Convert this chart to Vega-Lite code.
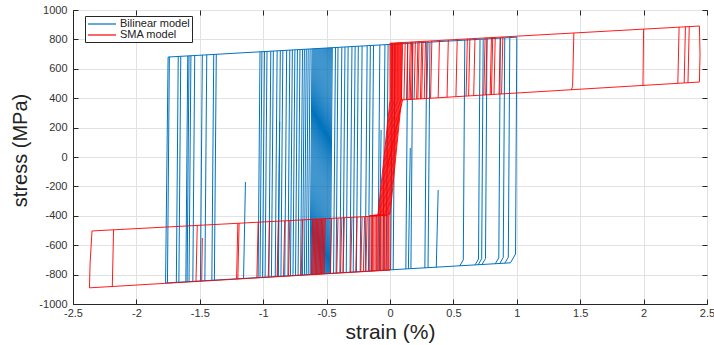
{
  "$schema": "https://vega.github.io/schema/vega-lite/v6.json",
  "width": 634,
  "height": 294,
  "autosize": "none",
  "padding": {"left": 73, "top": 10, "right": 7, "bottom": 41},
  "background": "white",
  "config": {
    "view": {"stroke": "#262626", "strokeWidth": 1},
    "font": "Liberation Sans"
  },
  "datasets": {
    "bilinear": [
      {"g":0,"o":0,"x":-1.75,"y":680},{"g":0,"o":1,"x":1.0,"y":815},{"g":0,"o":2,"x":0.99,"y":-660},{"g":0,"o":3,"x":0.95,"y":-720},{"g":0,"o":4,"x":-1.77,"y":-857},{"g":0,"o":5,"x":-1.75,"y":680},
      {"g":1,"o":0,"x":-1.755,"y":-856},{"g":1,"o":1,"x":-1.74,"y":681},
      {"g":2,"o":0,"x":-1.685,"y":-853},{"g":2,"o":1,"x":-1.67,"y":684},
      {"g":3,"o":0,"x":-1.665,"y":-852},{"g":3,"o":1,"x":-1.65,"y":685},
      {"g":4,"o":0,"x":-1.61,"y":-849},{"g":4,"o":1,"x":-1.595,"y":688},
      {"g":5,"o":0,"x":-1.6,"y":-848},{"g":5,"o":1,"x":-1.585,"y":688},
      {"g":6,"o":0,"x":-1.585,"y":-848},{"g":6,"o":1,"x":-1.57,"y":689},
      {"g":7,"o":0,"x":-1.555,"y":-846},{"g":7,"o":1,"x":-1.54,"y":691},
      {"g":8,"o":0,"x":-1.495,"y":-843},{"g":8,"o":1,"x":-1.48,"y":694},
      {"g":9,"o":0,"x":-1.46,"y":-841},{"g":9,"o":1,"x":-1.445,"y":695},
      {"g":10,"o":0,"x":-1.405,"y":-839},{"g":10,"o":1,"x":-1.39,"y":698},
      {"g":11,"o":0,"x":-1.385,"y":-838},{"g":11,"o":1,"x":-1.37,"y":699},
      {"g":12,"o":0,"x":-1.155,"y":-827},{"g":12,"o":1,"x":-1.14,"y":-170},
      {"g":13,"o":0,"x":-1.04,"y":-820},{"g":13,"o":1,"x":-1.025,"y":716},
      {"g":14,"o":0,"x":-1.025,"y":-820},{"g":14,"o":1,"x":-1.01,"y":717},
      {"g":15,"o":0,"x":-1.005,"y":-819},{"g":15,"o":1,"x":-0.99,"y":718},
      {"g":16,"o":0,"x":-0.985,"y":-818},{"g":16,"o":1,"x":-0.97,"y":718},
      {"g":17,"o":0,"x":-0.955,"y":-816},{"g":17,"o":1,"x":-0.94,"y":720},
      {"g":18,"o":0,"x":-0.935,"y":-815},{"g":18,"o":1,"x":-0.92,"y":721},
      {"g":19,"o":0,"x":-0.905,"y":-814},{"g":19,"o":1,"x":-0.89,"y":722},
      {"g":20,"o":0,"x":-0.88,"y":-812},{"g":20,"o":1,"x":-0.865,"y":724},
      {"g":21,"o":0,"x":-0.86,"y":-811},{"g":21,"o":1,"x":-0.845,"y":725},
      {"g":22,"o":0,"x":-0.83,"y":-810},{"g":22,"o":1,"x":-0.815,"y":726},
      {"g":23,"o":0,"x":-0.805,"y":-809},{"g":23,"o":1,"x":-0.79,"y":727},
      {"g":24,"o":0,"x":-0.785,"y":-808},{"g":24,"o":1,"x":-0.77,"y":728},
      {"g":25,"o":0,"x":-0.765,"y":-807},{"g":25,"o":1,"x":-0.75,"y":729},
      {"g":26,"o":0,"x":-0.745,"y":-806},{"g":26,"o":1,"x":-0.73,"y":730},
      {"g":27,"o":0,"x":-0.725,"y":-805},{"g":27,"o":1,"x":-0.71,"y":731},
      {"g":28,"o":0,"x":-0.705,"y":-804},{"g":28,"o":1,"x":-0.69,"y":732},
      {"g":29,"o":0,"x":-0.69,"y":-803},{"g":29,"o":1,"x":-0.675,"y":733},
      {"g":30,"o":0,"x":-0.675,"y":-802},{"g":30,"o":1,"x":-0.66,"y":734},
      {"g":31,"o":0,"x":-0.66,"y":-801},{"g":31,"o":1,"x":-0.645,"y":734},
      {"g":32,"o":0,"x":-0.645,"y":-801},{"g":32,"o":1,"x":-0.63,"y":735},
      {"g":33,"o":0,"x":-0.885,"y":-813},{"g":33,"o":1,"x":-0.87,"y":240},
      {"g":34,"o":0,"x":-0.63,"y":-800},{"g":34,"o":1,"x":-0.615,"y":736},
      {"g":35,"o":0,"x":-0.622,"y":-799},{"g":35,"o":1,"x":-0.607,"y":736},
      {"g":36,"o":0,"x":-0.614,"y":-799},{"g":36,"o":1,"x":-0.599,"y":737},
      {"g":37,"o":0,"x":-0.606,"y":-799},{"g":37,"o":1,"x":-0.591,"y":737},
      {"g":38,"o":0,"x":-0.598,"y":-798},{"g":38,"o":1,"x":-0.583,"y":737},
      {"g":39,"o":0,"x":-0.59,"y":-798},{"g":39,"o":1,"x":-0.575,"y":738},
      {"g":40,"o":0,"x":-0.582,"y":-797},{"g":40,"o":1,"x":-0.567,"y":738},
      {"g":41,"o":0,"x":-0.574,"y":-797},{"g":41,"o":1,"x":-0.559,"y":739},
      {"g":42,"o":0,"x":-0.566,"y":-797},{"g":42,"o":1,"x":-0.551,"y":739},
      {"g":43,"o":0,"x":-0.558,"y":-796},{"g":43,"o":1,"x":-0.543,"y":739},
      {"g":44,"o":0,"x":-0.55,"y":-796},{"g":44,"o":1,"x":-0.535,"y":740},
      {"g":45,"o":0,"x":-0.542,"y":-795},{"g":45,"o":1,"x":-0.527,"y":740},
      {"g":46,"o":0,"x":-0.534,"y":-795},{"g":46,"o":1,"x":-0.519,"y":741},
      {"g":47,"o":0,"x":-0.526,"y":-795},{"g":47,"o":1,"x":-0.511,"y":741},
      {"g":48,"o":0,"x":-0.518,"y":-794},{"g":48,"o":1,"x":-0.503,"y":741},
      {"g":49,"o":0,"x":-0.51,"y":-794},{"g":49,"o":1,"x":-0.495,"y":742},
      {"g":50,"o":0,"x":-0.502,"y":-793},{"g":50,"o":1,"x":-0.487,"y":742},
      {"g":51,"o":0,"x":-0.494,"y":-793},{"g":51,"o":1,"x":-0.479,"y":743},
      {"g":52,"o":0,"x":-0.486,"y":-793},{"g":52,"o":1,"x":-0.471,"y":743},
      {"g":53,"o":0,"x":-0.478,"y":-792},{"g":53,"o":1,"x":-0.463,"y":743},
      {"g":54,"o":0,"x":-0.47,"y":-792},{"g":54,"o":1,"x":-0.455,"y":744},
      {"g":55,"o":0,"x":-0.445,"y":-791},{"g":55,"o":1,"x":-0.43,"y":745},
      {"g":56,"o":0,"x":-0.425,"y":-790},{"g":56,"o":1,"x":-0.41,"y":746},
      {"g":57,"o":0,"x":-0.395,"y":-788},{"g":57,"o":1,"x":-0.38,"y":747},
      {"g":58,"o":0,"x":-0.37,"y":-787},{"g":58,"o":1,"x":-0.355,"y":749},
      {"g":59,"o":0,"x":-0.345,"y":-786},{"g":59,"o":1,"x":-0.33,"y":750},
      {"g":60,"o":0,"x":-0.315,"y":-784},{"g":60,"o":1,"x":-0.3,"y":751},
      {"g":61,"o":0,"x":-0.29,"y":-783},{"g":61,"o":1,"x":-0.275,"y":753},
      {"g":62,"o":0,"x":-0.265,"y":-782},{"g":62,"o":1,"x":-0.25,"y":754},
      {"g":63,"o":0,"x":-0.235,"y":-780},{"g":63,"o":1,"x":-0.22,"y":755},
      {"g":64,"o":0,"x":-0.195,"y":-778},{"g":64,"o":1,"x":-0.18,"y":757},
      {"g":65,"o":0,"x":-0.17,"y":-777},{"g":65,"o":1,"x":-0.155,"y":758},
      {"g":66,"o":0,"x":-0.145,"y":-776},{"g":66,"o":1,"x":-0.13,"y":760},
      {"g":67,"o":0,"x":-0.095,"y":-773},{"g":67,"o":1,"x":-0.08,"y":762},
      {"g":68,"o":0,"x":-0.055,"y":-771},{"g":68,"o":1,"x":-0.04,"y":764},
      {"g":69,"o":0,"x":-0.03,"y":-770},{"g":69,"o":1,"x":-0.015,"y":765},
      {"g":70,"o":0,"x":-0.085,"y":-774},{"g":70,"o":1,"x":-0.07,"y":184},
      {"g":71,"o":0,"x":0.005,"y":-768},{"g":71,"o":1,"x":0.02,"y":767},
      {"g":72,"o":0,"x":0.025,"y":-767},{"g":72,"o":1,"x":0.04,"y":768},
      {"g":73,"o":0,"x":0.125,"y":-762},{"g":73,"o":1,"x":0.14,"y":773},
      {"g":74,"o":0,"x":0.165,"y":-760},{"g":74,"o":1,"x":0.18,"y":775},
      {"g":75,"o":0,"x":0.275,"y":-755},{"g":75,"o":1,"x":0.29,"y":780},
      {"g":76,"o":0,"x":0.3,"y":-753},{"g":76,"o":1,"x":0.315,"y":781},
      {"g":77,"o":0,"x":0.55,"y":-741},{"g":77,"o":1,"x":0.578,"y":-700},{"g":77,"o":2,"x":0.59,"y":795},
      {"g":78,"o":0,"x":0.67,"y":-735},{"g":78,"o":1,"x":0.698,"y":-694},{"g":78,"o":2,"x":0.71,"y":801},
      {"g":79,"o":0,"x":0.695,"y":-734},{"g":79,"o":1,"x":0.723,"y":-692},{"g":79,"o":2,"x":0.735,"y":802},
      {"g":80,"o":0,"x":0.725,"y":-732},{"g":80,"o":1,"x":0.753,"y":-691},{"g":80,"o":2,"x":0.765,"y":803},
      {"g":81,"o":0,"x":0.83,"y":-727},{"g":81,"o":1,"x":0.858,"y":-686},{"g":81,"o":2,"x":0.87,"y":809},
      {"g":82,"o":0,"x":0.865,"y":-725},{"g":82,"o":1,"x":0.893,"y":-684},{"g":82,"o":2,"x":0.905,"y":810},
      {"g":83,"o":0,"x":0.905,"y":-723},{"g":83,"o":1,"x":0.933,"y":-682},{"g":83,"o":2,"x":0.945,"y":812},
      {"g":84,"o":0,"x":0.145,"y":-762},{"g":84,"o":1,"x":0.16,"y":61},
      {"g":85,"o":0,"x":0.365,"y":-751},{"g":85,"o":1,"x":0.38,"y":-225}
    ],
    "sma": [
      {"g":0,"o":0,"x":0.0,"y":774},{"g":0,"o":1,"x":2.44,"y":891},{"g":0,"o":2,"x":2.445,"y":700},{"g":0,"o":3,"x":2.44,"y":510},{"g":0,"o":4,"x":0.09,"y":388},
      {"g":1,"o":0,"x":0.0,"y":-769},{"g":1,"o":1,"x":-2.37,"y":-890},{"g":1,"o":2,"x":-2.365,"y":-720},{"g":1,"o":3,"x":-2.35,"y":-503},{"g":1,"o":4,"x":-0.095,"y":-401},
      {"g":2,"o":0,"x":-2.19,"y":-881},{"g":2,"o":1,"x":-2.18,"y":-495},
      {"g":3,"o":0,"x":-1.53,"y":-847},{"g":3,"o":1,"x":-1.52,"y":-465},
      {"g":4,"o":0,"x":-1.485,"y":-845},{"g":4,"o":1,"x":-1.48,"y":-551},
      {"g":5,"o":0,"x":-1.21,"y":-831},{"g":5,"o":1,"x":-1.2,"y":-451},
      {"g":6,"o":0,"x":-1.2,"y":-830},{"g":6,"o":1,"x":-1.19,"y":-451},
      {"g":7,"o":0,"x":-1.05,"y":-823},{"g":7,"o":1,"x":-1.04,"y":-444},
      {"g":8,"o":0,"x":-0.96,"y":-818},{"g":8,"o":1,"x":-0.95,"y":-440},
      {"g":9,"o":0,"x":-0.89,"y":-814},{"g":9,"o":1,"x":-0.88,"y":-437},
      {"g":10,"o":0,"x":-0.84,"y":-812},{"g":10,"o":1,"x":-0.83,"y":-434},
      {"g":11,"o":0,"x":-0.8,"y":-810},{"g":11,"o":1,"x":-0.79,"y":-433},
      {"g":12,"o":0,"x":-0.7,"y":-805},{"g":12,"o":1,"x":-0.69,"y":-428},
      {"g":13,"o":0,"x":-0.62,"y":-801},{"g":13,"o":1,"x":-0.61,"y":-424},
      {"g":14,"o":0,"x":-0.61,"y":-800},{"g":14,"o":1,"x":-0.6,"y":-424},
      {"g":15,"o":0,"x":-0.6,"y":-800},{"g":15,"o":1,"x":-0.59,"y":-424},
      {"g":16,"o":0,"x":-0.59,"y":-799},{"g":16,"o":1,"x":-0.58,"y":-423},
      {"g":17,"o":0,"x":-0.58,"y":-799},{"g":17,"o":1,"x":-0.57,"y":-423},
      {"g":18,"o":0,"x":-0.57,"y":-798},{"g":18,"o":1,"x":-0.56,"y":-422},
      {"g":19,"o":0,"x":-0.56,"y":-798},{"g":19,"o":1,"x":-0.55,"y":-422},
      {"g":20,"o":0,"x":-0.55,"y":-797},{"g":20,"o":1,"x":-0.54,"y":-421},
      {"g":21,"o":0,"x":-0.54,"y":-797},{"g":21,"o":1,"x":-0.53,"y":-421},
      {"g":22,"o":0,"x":-0.53,"y":-796},{"g":22,"o":1,"x":-0.52,"y":-420},
      {"g":23,"o":0,"x":-0.52,"y":-796},{"g":23,"o":1,"x":-0.51,"y":-420},
      {"g":24,"o":0,"x":-0.47,"y":-793},{"g":24,"o":1,"x":-0.46,"y":-418},
      {"g":25,"o":0,"x":-0.42,"y":-790},{"g":25,"o":1,"x":-0.41,"y":-415},
      {"g":26,"o":0,"x":-0.39,"y":-789},{"g":26,"o":1,"x":-0.38,"y":-414},
      {"g":27,"o":0,"x":-0.37,"y":-788},{"g":27,"o":1,"x":-0.36,"y":-413},
      {"g":28,"o":0,"x":-0.31,"y":-785},{"g":28,"o":1,"x":-0.3,"y":-411},
      {"g":29,"o":0,"x":-0.27,"y":-783},{"g":29,"o":1,"x":-0.26,"y":-409},
      {"g":30,"o":0,"x":-0.23,"y":-781},{"g":30,"o":1,"x":-0.22,"y":-407},
      {"g":31,"o":0,"x":-0.21,"y":-780},{"g":31,"o":1,"x":-0.2,"y":-406},
      {"g":32,"o":0,"x":-0.19,"y":-779},{"g":32,"o":1,"x":-0.18,"y":-405},
      {"g":40,"o":0,"x":0.09,"y":388},{"g":40,"o":1,"x":0.1,"y":779},
      {"g":41,"o":0,"x":0.11,"y":389},{"g":41,"o":1,"x":0.12,"y":780},
      {"g":42,"o":0,"x":0.13,"y":390},{"g":42,"o":1,"x":0.14,"y":781},
      {"g":43,"o":0,"x":0.15,"y":391},{"g":43,"o":1,"x":0.16,"y":782},
      {"g":44,"o":0,"x":0.16,"y":391},{"g":44,"o":1,"x":0.17,"y":782},
      {"g":45,"o":0,"x":0.17,"y":392},{"g":45,"o":1,"x":0.18,"y":783},
      {"g":46,"o":0,"x":0.19,"y":393},{"g":46,"o":1,"x":0.2,"y":784},
      {"g":47,"o":0,"x":0.21,"y":394},{"g":47,"o":1,"x":0.22,"y":785},
      {"g":48,"o":0,"x":0.22,"y":394},{"g":48,"o":1,"x":0.23,"y":785},
      {"g":49,"o":0,"x":0.24,"y":395},{"g":49,"o":1,"x":0.25,"y":786},
      {"g":50,"o":0,"x":0.25,"y":396},{"g":50,"o":1,"x":0.26,"y":786},
      {"g":51,"o":0,"x":0.27,"y":397},{"g":51,"o":1,"x":0.28,"y":787},
      {"g":52,"o":0,"x":0.29,"y":398},{"g":52,"o":1,"x":0.3,"y":788},
      {"g":53,"o":0,"x":0.32,"y":400},{"g":53,"o":1,"x":0.33,"y":790},
      {"g":54,"o":0,"x":0.38,"y":403},{"g":54,"o":1,"x":0.39,"y":793},
      {"g":55,"o":0,"x":0.45,"y":406},{"g":55,"o":1,"x":0.46,"y":796},
      {"g":56,"o":0,"x":0.52,"y":410},{"g":56,"o":1,"x":0.53,"y":799},
      {"g":57,"o":0,"x":0.6,"y":414},{"g":57,"o":1,"x":0.61,"y":803},
      {"g":58,"o":0,"x":0.62,"y":415},{"g":58,"o":1,"x":0.63,"y":804},
      {"g":59,"o":0,"x":0.66,"y":417},{"g":59,"o":1,"x":0.67,"y":806},
      {"g":60,"o":0,"x":0.74,"y":421},{"g":60,"o":1,"x":0.75,"y":810},
      {"g":61,"o":0,"x":0.755,"y":422},{"g":61,"o":1,"x":0.765,"y":811},
      {"g":62,"o":0,"x":0.79,"y":424},{"g":62,"o":1,"x":0.8,"y":812},
      {"g":63,"o":0,"x":0.8,"y":425},{"g":63,"o":1,"x":0.81,"y":813},
      {"g":64,"o":0,"x":0.82,"y":426},{"g":64,"o":1,"x":0.83,"y":814},
      {"g":65,"o":0,"x":0.86,"y":428},{"g":65,"o":1,"x":0.87,"y":816},
      {"g":66,"o":0,"x":0.88,"y":429},{"g":66,"o":1,"x":0.89,"y":817},
      {"g":67,"o":0,"x":1.43,"y":457},{"g":67,"o":1,"x":1.44,"y":480},{"g":67,"o":2,"x":1.45,"y":844},
      {"g":68,"o":0,"x":1.995,"y":486},{"g":68,"o":1,"x":2.0,"y":870},
      {"g":69,"o":0,"x":2.27,"y":501},{"g":69,"o":1,"x":2.28,"y":883},
      {"g":70,"o":0,"x":2.32,"y":504},{"g":70,"o":1,"x":2.33,"y":886},
      {"g":71,"o":0,"x":2.35,"y":505},{"g":71,"o":1,"x":2.36,"y":887},
      {"g":80,"o":0,"x":-0.16,"y":-777},{"g":80,"o":1,"x":-0.16,"y":-398},{"g":80,"o":2,"x":-0.095,"y":-396},{"g":80,"o":3,"x":0.0,"y":388},{"g":80,"o":4,"x":0.0,"y":774},
      {"g":81,"o":0,"x":-0.149,"y":-777},{"g":81,"o":1,"x":-0.149,"y":-398},{"g":81,"o":2,"x":-0.089,"y":-396},{"g":81,"o":3,"x":0.006,"y":388},{"g":81,"o":4,"x":0.006,"y":774},
      {"g":82,"o":0,"x":-0.139,"y":-776},{"g":82,"o":1,"x":-0.139,"y":-398},{"g":82,"o":2,"x":-0.082,"y":-396},{"g":82,"o":3,"x":0.012,"y":388},{"g":82,"o":4,"x":0.012,"y":775},
      {"g":83,"o":0,"x":-0.128,"y":-776},{"g":83,"o":1,"x":-0.128,"y":-398},{"g":83,"o":2,"x":-0.076,"y":-396},{"g":83,"o":3,"x":0.018,"y":388},{"g":83,"o":4,"x":0.018,"y":775},
      {"g":84,"o":0,"x":-0.117,"y":-775},{"g":84,"o":1,"x":-0.117,"y":-398},{"g":84,"o":2,"x":-0.07,"y":-396},{"g":84,"o":3,"x":0.024,"y":388},{"g":84,"o":4,"x":0.024,"y":775},
      {"g":85,"o":0,"x":-0.107,"y":-774},{"g":85,"o":1,"x":-0.107,"y":-398},{"g":85,"o":2,"x":-0.063,"y":-396},{"g":85,"o":3,"x":0.03,"y":388},{"g":85,"o":4,"x":0.03,"y":775},
      {"g":86,"o":0,"x":-0.096,"y":-774},{"g":86,"o":1,"x":-0.096,"y":-398},{"g":86,"o":2,"x":-0.057,"y":-396},{"g":86,"o":3,"x":0.036,"y":388},{"g":86,"o":4,"x":0.036,"y":776},
      {"g":87,"o":0,"x":-0.085,"y":-773},{"g":87,"o":1,"x":-0.085,"y":-398},{"g":87,"o":2,"x":-0.051,"y":-396},{"g":87,"o":3,"x":0.042,"y":388},{"g":87,"o":4,"x":0.042,"y":776},
      {"g":88,"o":0,"x":-0.075,"y":-773},{"g":88,"o":1,"x":-0.075,"y":-398},{"g":88,"o":2,"x":-0.044,"y":-396},{"g":88,"o":3,"x":0.048,"y":388},{"g":88,"o":4,"x":0.048,"y":776},
      {"g":89,"o":0,"x":-0.064,"y":-772},{"g":89,"o":1,"x":-0.064,"y":-398},{"g":89,"o":2,"x":-0.038,"y":-396},{"g":89,"o":3,"x":0.054,"y":388},{"g":89,"o":4,"x":0.054,"y":777},
      {"g":90,"o":0,"x":-0.053,"y":-772},{"g":90,"o":1,"x":-0.053,"y":-398},{"g":90,"o":2,"x":-0.032,"y":-396},{"g":90,"o":3,"x":0.06,"y":388},{"g":90,"o":4,"x":0.06,"y":777},
      {"g":91,"o":0,"x":-0.043,"y":-771},{"g":91,"o":1,"x":-0.043,"y":-398},{"g":91,"o":2,"x":-0.025,"y":-396},{"g":91,"o":3,"x":0.066,"y":388},{"g":91,"o":4,"x":0.066,"y":777},
      {"g":92,"o":0,"x":-0.032,"y":-771},{"g":92,"o":1,"x":-0.032,"y":-398},{"g":92,"o":2,"x":-0.019,"y":-396},{"g":92,"o":3,"x":0.072,"y":388},{"g":92,"o":4,"x":0.072,"y":777},
      {"g":93,"o":0,"x":-0.021,"y":-770},{"g":93,"o":1,"x":-0.021,"y":-398},{"g":93,"o":2,"x":-0.013,"y":-396},{"g":93,"o":3,"x":0.078,"y":388},{"g":93,"o":4,"x":0.078,"y":778},
      {"g":94,"o":0,"x":-0.011,"y":-770},{"g":94,"o":1,"x":-0.011,"y":-398},{"g":94,"o":2,"x":-0.006,"y":-396},{"g":94,"o":3,"x":0.084,"y":388},{"g":94,"o":4,"x":0.084,"y":778},
      {"g":95,"o":0,"x":0.0,"y":-769},{"g":95,"o":1,"x":0.0,"y":-398},{"g":95,"o":2,"x":0.0,"y":-396},{"g":95,"o":3,"x":0.09,"y":388},{"g":95,"o":4,"x":0.09,"y":778},
      {"g":96,"o":0,"x":-0.02,"y":-70},{"g":96,"o":1,"x":0.1,"y":392}
    ]
  },
  "layer": [
    {
      "data": {"name": "bilinear"},
      "mark": {"type": "line", "strokeWidth": 1, "clip": true},
      "encoding": {
        "x": {
          "field": "x", "type": "quantitative",
          "scale": {"domain": [-2.5, 2.5], "nice": false, "zero": false},
          "axis": {
            "orient": "bottom",
            "title": "strain (%)",
            "values": [-2.5, -2, -1.5, -1, -0.5, 0, 0.5, 1, 1.5, 2, 2.5],
            "labelExpr": "'' + datum.value",
            "labelFlush": false,
            "grid": true, "gridColor": "#e2e2e2",
            "tickSize": -5, "tickColor": "#262626",
            "domainColor": "#262626",
            "labelFont": "Liberation Sans", "labelFontSize": 11, "labelColor": "#333333",
            "labelPadding": 8,
            "titleFont": "Liberation Sans", "titleFontSize": 21, "titleFontWeight": "normal", "titleColor": "#222222",
            "titleBaseline": "alphabetic", "titleY": 34
          }
        },
        "y": {
          "field": "y", "type": "quantitative",
          "scale": {"domain": [-1000, 1000], "nice": false, "zero": false},
          "axis": {
            "orient": "left",
            "title": "stress (MPa)",
            "values": [-1000, -800, -600, -400, -200, 0, 200, 400, 600, 800, 1000],
            "labelExpr": "'' + datum.value",
            "labelFlush": false,
            "grid": true, "gridColor": "#e2e2e2",
            "tickSize": -5, "tickColor": "#262626",
            "domainColor": "#262626",
            "labelFont": "Liberation Sans", "labelFontSize": 11, "labelColor": "#333333",
            "labelPadding": 11,
            "titleFont": "Liberation Sans", "titleFontSize": 20, "titleFontWeight": "normal", "titleColor": "#222222",
            "titleBaseline": "alphabetic", "titleX": -47, "titleY": 140, "titleAngle": -90
          }
        },
        "color": {
          "datum": "Bilinear model", "type": "nominal",
          "scale": {"domain": ["Bilinear model", "SMA model"], "range": ["#0072BD", "#FF0000"]},
          "legend": {
            "title": null, "orient": "none", "legendX": 12, "legendY": 6,
            "symbolType": "M-1,0H4.6", "symbolSize": 100, "symbolStrokeWidth": 1.2,
            "labelFont": "Liberation Sans", "labelFontSize": 11, "labelColor": "#222222",
            "fillColor": "white", "strokeColor": "#262626", "padding": 2, "rowPadding": 0, "labelOffset": 21
          }
        },
        "detail": {"field": "g", "type": "nominal"},
        "order": {"field": "o", "type": "quantitative"}
      }
    },
    {
      "data": {"name": "sma"},
      "mark": {"type": "line", "strokeWidth": 0.9, "clip": true},
      "encoding": {
        "x": {
          "field": "x", "type": "quantitative",
          "axis": {"orient": "top", "title": null, "labels": false, "grid": false, "domain": false,
                   "values": [-2.5, -2, -1.5, -1, -0.5, 0, 0.5, 1, 1.5, 2, 2.5], "tickSize": -5, "tickColor": "#262626"}
        },
        "y": {
          "field": "y", "type": "quantitative",
          "axis": {"orient": "right", "title": null, "labels": false, "grid": false, "domain": false,
                   "values": [-1000, -800, -600, -400, -200, 0, 200, 400, 600, 800, 1000], "tickSize": -5, "tickColor": "#262626"}
        },
        "color": {"datum": "SMA model", "type": "nominal"},
        "detail": {"field": "g", "type": "nominal"},
        "order": {"field": "o", "type": "quantitative"}
      }
    }
  ],
  "resolve": {"axis": {"x": "independent", "y": "independent"}}
}
